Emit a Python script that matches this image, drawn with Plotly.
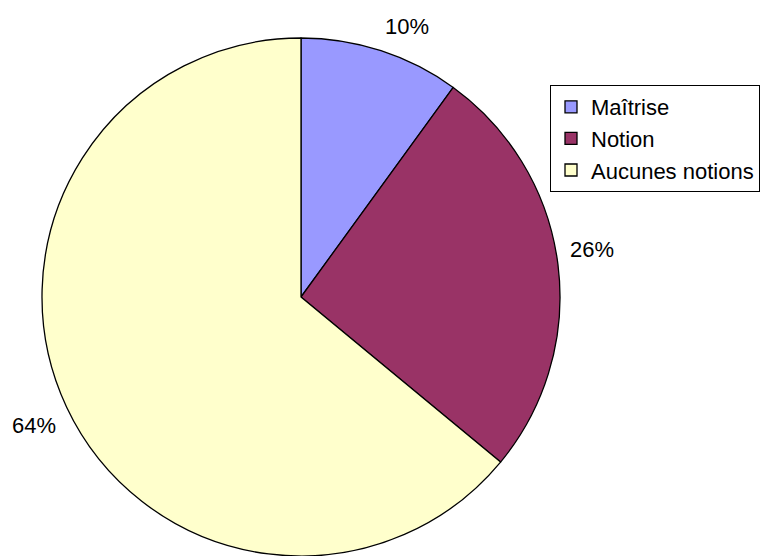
import math
import plotly.graph_objects as go

labels = ["Maîtrise", "Notion", "Aucunes notions"]
values = [10, 26, 64]
colors = ["#9999FF", "#993366", "#FFFFCC"]

W, H = 760, 556
cx_px, cy_px, r_px = 301, 297, 259
label_r_px = 270

fig = go.Figure(go.Pie(
    labels=labels,
    values=values,
    sort=False,
    direction="clockwise",
    rotation=0,
    marker=dict(colors=colors, line=dict(color="black", width=1.3)),
    textinfo="none",
    hoverinfo="label+percent",
    domain=dict(x=[(cx_px - r_px) / W, (cx_px + r_px) / W],
                y=[(H - (cy_px + r_px)) / H, (H - (cy_px - r_px)) / H]),
))

total = sum(values)
cum = 0
for v in values:
    mid = (cum + v / 2) / total * 2 * math.pi
    cum += v
    s, c = math.sin(mid), math.cos(mid)
    x_px = cx_px + label_r_px * s
    y_px = cy_px - label_r_px * c
    fig.add_annotation(
        x=x_px / W, y=1 - y_px / H, xref="paper", yref="paper",
        text=f"{round(v / total * 100)}%", showarrow=False,
        xanchor="left" if s > 0 else "right",
        yanchor="bottom" if c > 0 else "top",
        borderpad=0,
        font=dict(family="Liberation Sans, Arial", size=22, color="black"),
    )

fig.update_layout(
    width=W, height=H,
    margin=dict(l=0, r=0, t=0, b=0, pad=0, autoexpand=False),
    paper_bgcolor="white",
    plot_bgcolor="white",
    font=dict(family="Liberation Sans, Arial", size=22, color="black"),
    legend=dict(
        x=550 / W, y=1 - 85 / H, xanchor="left", yanchor="top",
        bgcolor="white", bordercolor="black", borderwidth=1,
        traceorder="normal",
        font=dict(family="Liberation Sans, Arial", size=22, color="black"),
        itemwidth=30,
    ),
)

fig.write_html(
    "out.html",
    config={"displayModeBar": False},
    post_script="document.body.style.margin='0';document.body.style.overflow='hidden';",
)
